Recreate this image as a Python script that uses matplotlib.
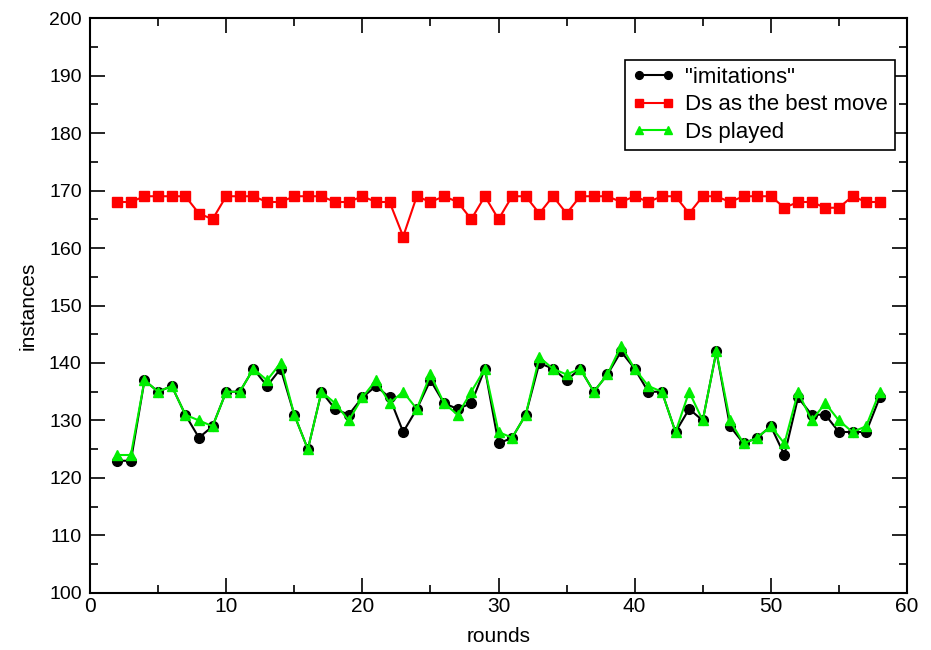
import numpy as np
import matplotlib
matplotlib.use("Agg")
import matplotlib.pyplot as plt
from matplotlib.ticker import MultipleLocator

plt.rcParams['font.family'] = ['Liberation Sans', 'DejaVu Sans']

# rounds 2..58
rounds = list(range(2, 59))

imitations = [123, 123, 137, 135, 136, 131, 127, 129, 135, 135,
              139, 136, 139, 131, 125, 135, 132, 131, 134, 136,
              134, 128, 132, 137, 133, 132, 133, 139, 126, 127,
              131, 140, 139, 137, 139, 135, 138, 142, 139, 135,
              135, 128, 132, 130, 142, 129, 126, 127, 129, 124,
              134, 131, 131, 128, 128, 128, 134]

best_move = [168, 168, 169, 169, 169, 169, 166, 165, 169, 169,
             169, 168, 168, 169, 169, 169, 168, 168, 169, 168,
             168, 162, 169, 168, 169, 168, 165, 169, 165, 169,
             169, 166, 169, 166, 169, 169, 169, 168, 169, 168,
             169, 169, 166, 169, 169, 168, 169, 169, 169, 167,
             168, 168, 167, 167, 169, 168, 168]

ds_played = [124, 124, 137, 135, 136, 131, 130, 129, 135, 135,
             139, 137, 140, 131, 125, 135, 133, 130, 134, 137,
             133, 135, 132, 138, 133, 131, 135, 139, 128, 127,
             131, 141, 139, 138, 139, 135, 138, 143, 139, 136,
             135, 128, 135, 130, 142, 130, 126, 127, 129, 126,
             135, 130, 133, 130, 128, 129, 135]

fig = plt.figure(figsize=(9.31, 6.5), dpi=100)
ax = fig.add_axes([0.0967, 0.0877, 0.8775, 0.8846])

ax.plot(rounds, imitations, color='black', lw=1.5, marker='o', ms=7,
        label='"imitations"')
ax.plot(rounds, best_move, color='#ff0000', lw=1.5, marker='s', ms=6.5,
        label='Ds as the best move')
ax.plot(rounds, ds_played, color='#00ee00', lw=1.5, marker='^', ms=7.5,
        label='Ds played')

ax.set_xlim(0, 60)
ax.set_ylim(100, 200)
ax.xaxis.set_major_locator(MultipleLocator(10))
ax.xaxis.set_minor_locator(MultipleLocator(5))
ax.yaxis.set_major_locator(MultipleLocator(10))
ax.yaxis.set_minor_locator(MultipleLocator(5))
ax.tick_params(which='both', direction='in', top=True, right=True, width=1.2)
ax.tick_params(axis='x', labelsize=15, pad=3)
ax.tick_params(axis='y', labelsize=14, pad=6)
ax.tick_params(which='major', length=11)
ax.tick_params(which='minor', length=6)
for s in ax.spines.values():
    s.set_linewidth(1.5)

ax.set_xlabel('rounds', fontsize=15, labelpad=8)
ax.set_ylabel('instances', fontsize=15, labelpad=8)

leg = ax.legend(loc='upper right', bbox_to_anchor=(0.985, 0.927),
                prop={'size': 16}, fancybox=False, edgecolor='black',
                framealpha=1, borderpad=0.3, labelspacing=0.3,
                handlelength=1.9, handletextpad=0.5, borderaxespad=0,
                numpoints=2, markerscale=0.8)
leg.get_frame().set_linewidth(1.2)

fig.savefig('out.png', dpi=100)
